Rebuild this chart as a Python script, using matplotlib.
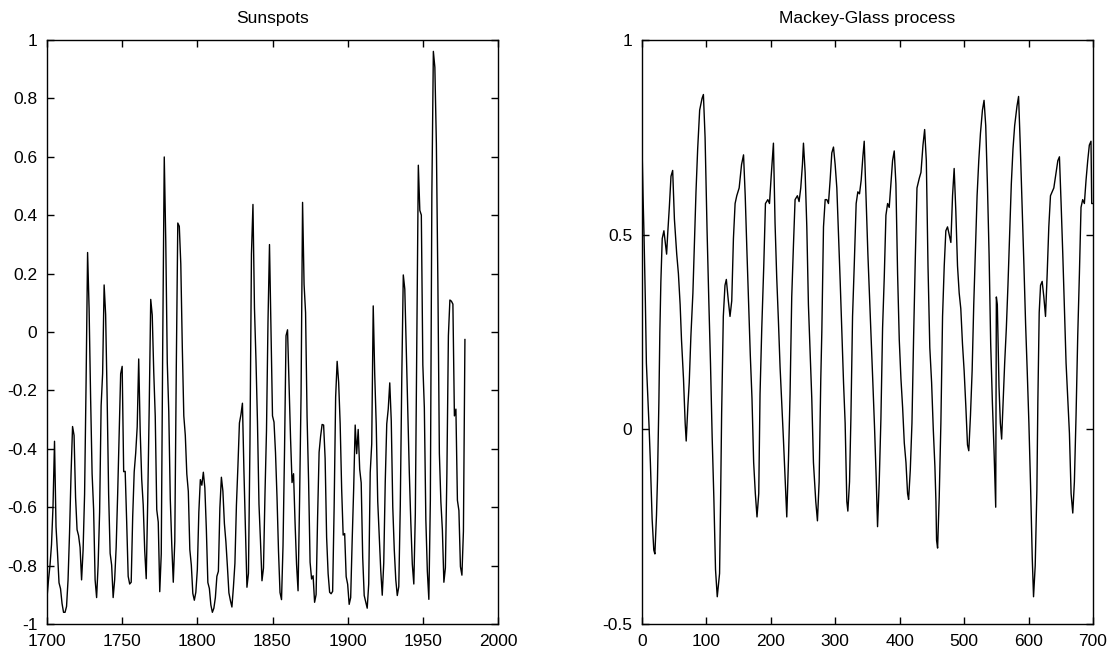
import matplotlib
matplotlib.use("Agg")
import matplotlib.pyplot as plt
import numpy as np

plt.rcParams['font.family'] = ['Liberation Sans', 'DejaVu Sans']
plt.rcParams['axes.unicode_minus'] = False

# ---- Sunspots: yearly sunspot numbers 1700-1978 (plotted after linear rescale) ----
sun_start_year = 1700
sun_raw = [5.0, 11.0, 16.0, 23.0, 36.0, 58.0, 29.0, 20.0, 10.0, 8.0,
           3.0, 0.0, 0.0, 2.0, 11.0, 27.0, 47.0, 63.0, 60.0, 39.0,
           28.0, 26.0, 22.0, 11.0, 21.0, 40.0, 78.0, 122.0, 103.0, 73.0,
           47.0, 35.0, 11.0, 5.0, 16.0, 34.0, 70.0, 81.0, 111.0, 101.0,
           73.0, 40.0, 20.0, 16.0, 5.0, 11.0, 22.0, 40.0, 60.0, 80.9,
           83.4, 47.7, 47.8, 30.7, 12.2, 9.6, 10.2, 32.4, 47.6, 54.0,
           62.9, 85.9, 61.2, 45.1, 36.4, 20.9, 11.4, 37.8, 69.8, 106.1,
           100.8, 81.6, 66.5, 34.8, 30.6, 7.0, 19.8, 92.5, 154.4, 125.9,
           84.8, 68.1, 38.5, 22.8, 10.2, 24.1, 82.9, 132.0, 130.9, 118.1,
           89.9, 66.6, 60.0, 46.9, 41.0, 21.3, 16.0, 6.4, 4.1, 6.8,
           14.5, 34.0, 45.0, 43.1, 47.5, 42.2, 28.1, 10.1, 8.1, 2.5,
           0.0, 1.4, 5.0, 12.2, 13.9, 35.4, 45.8, 41.1, 30.1, 23.9,
           15.6, 6.6, 4.0, 1.8, 8.5, 16.6, 36.3, 49.6, 64.2, 67.0,
           70.9, 47.8, 27.5, 8.5, 13.2, 56.9, 121.5, 138.3, 103.2, 85.7,
           64.6, 36.7, 24.2, 10.7, 15.0, 40.1, 61.5, 98.5, 124.7, 96.3,
           66.6, 64.5, 54.1, 39.0, 20.6, 6.7, 4.3, 22.7, 54.8, 93.8,
           95.8, 77.2, 59.1, 44.0, 47.0, 30.5, 16.3, 7.3, 37.6, 74.0,
           139.0, 111.2, 101.6, 66.2, 44.7, 17.0, 11.3, 12.4, 3.4, 6.0,
           32.3, 54.3, 59.7, 63.7, 63.5, 52.2, 25.4, 13.1, 6.8, 6.3,
           7.1, 35.6, 73.0, 85.1, 78.0, 64.0, 41.8, 26.2, 26.7, 12.1,
           9.5, 2.7, 5.0, 24.4, 42.0, 63.5, 53.8, 62.0, 48.5, 43.9,
           18.6, 5.7, 3.6, 1.4, 9.6, 47.4, 57.1, 103.9, 80.6, 63.6,
           37.6, 26.1, 14.2, 5.8, 16.7, 44.3, 63.9, 69.0, 77.8, 64.9,
           35.7, 21.2, 11.1, 5.7, 8.7, 36.1, 79.7, 114.4, 109.6, 88.8,
           67.8, 47.5, 30.6, 16.3, 9.6, 33.2, 92.6, 151.6, 136.3, 134.7,
           83.9, 69.4, 31.5, 13.9, 4.4, 38.0, 141.7, 190.2, 184.8, 159.0,
           112.3, 53.9, 37.5, 27.9, 10.2, 15.1, 47.0, 93.8, 105.9, 105.5,
           104.5, 66.6, 68.9, 38.0, 34.5, 15.5, 12.6, 27.5, 92.5]
sun_scale = 0.0101   # normalisation used by the chart
sun_offset = -0.96

sun_xticks = [1700, 1750, 1800, 1850, 1900, 1950, 2000]
sun_yticks = [-1, -0.8, -0.6, -0.4, -0.2, 0, 0.2, 0.4, 0.6, 0.8, 1]
sun_ylabels = ['-1', '-0.8', '-0.6', '-0.4', '-0.2', '0', '0.2', '0.4', '0.6', '0.8', '1']

# ---- Mackey-Glass process: values ----
mg_t = [0, 1.6, 3.1, 5.2, 6.8, 11, 13, 15.7, 18.3, 20, 22.5, 24, 26.2, 27.7, 29.3,
        31.4, 34, 38.2, 39.8, 42.4, 45, 47.6, 50.3, 53.9, 56.5, 59.2, 61.3, 64.4,
        67, 68.6, 71.2, 73.3, 75.9, 79, 81.2, 83.8, 86.4, 89.5, 93.2, 95.3, 97.9,
        101, 103.7, 106.3, 108.9, 111.5, 114.1, 116.8, 120.4, 122, 123.6, 126.2,
        128.8, 130.9, 134, 136.6, 139.3, 141.9, 144.5, 147.1, 150.8, 154.5, 157.6,
        160.2, 162.8, 165.4, 168.1, 170.7, 173.3, 175.9, 178.5, 181.2, 183.2,
        185.9, 189, 191.6, 195.3, 197.9, 200.5, 204.0, 206.5, 209.1, 211.7, 214.3,
        216.9, 219.5, 222.1, 224.7, 227.3, 229.8, 232.4, 235, 237.6, 241.2, 243.8,
        246.4, 249, 250.6, 253.2, 255.8, 258.3, 260.9, 263.5, 266.1, 269.7, 272.3,
        274.9, 277.5, 279.1, 281.7, 284.3, 286.9, 289.4, 292, 294.6, 297.2, 299.8,
        302.4, 305, 307.6, 310.2, 312.8, 315.3, 317.9, 319.5, 322.1, 324.2, 326.8,
        329.4, 332.4, 335, 337.6, 340.2, 342.8, 344.9, 348, 350.6, 353.2, 355.8,
        358.3, 360.9, 363.5, 365.6, 368.2, 370.8, 373.4, 376, 378.6, 381.2, 383.7,
        386.3, 388.9, 391.5, 394.1, 396.7, 399.3, 401.9, 404.5, 407.1, 409.7,
        412.2, 413.8, 416.4, 419, 421.6, 424.2, 426.8, 430.4, 433, 436.1, 438.7,
        441.3, 443.9, 446.7, 449.5, 452.1, 454.6, 456.2, 457.2, 458.8, 461.3,
        463.9, 466.5, 469.1, 471.6, 474.2, 476.8, 479.4, 482, 484.5, 487.1, 489.7,
        492.3, 494.8, 497.4, 500, 502.6, 505.2, 507.2, 509.8, 512.4, 514.9, 517.5,
        520.1, 522.7, 525.3, 528.4, 530.9, 533.5, 536.1, 538.7, 541.2, 543.8,
        546.4, 549, 550, 551.5, 552.6, 554.1, 556.2, 558.2, 560.3, 562.9, 565.5,
        568, 570.6, 573.2, 575.8, 578.4, 582, 584.5, 587.1, 589.7, 592.8, 595.4,
        597.9, 600.5, 603.1, 605.7, 607.7, 610.3, 612.9, 614.4, 616.5, 618.6,
        621.1, 623.7, 626.3, 628.9, 631.4, 634, 636.6, 639.2, 641.8, 645.4, 647.9,
        650.5, 653.1, 655.7, 658.2, 660.8, 663.4, 666, 668.6, 671.1, 673.7, 676.3,
        678.9, 681.4, 684, 686.6, 689.2, 691.8, 694.3, 696.9, 698, 700]
mg_v = [0.73, 0.60, 0.50, 0.33, 0.17, 0.006, -0.085, -0.23, -0.31, -0.32, -0.22,
        -0.13, 0.07, 0.25, 0.38, 0.49, 0.51, 0.45, 0.50, 0.57, 0.65, 0.665, 0.54,
        0.45, 0.40, 0.32, 0.23, 0.13, 0.016, -0.03, 0.06, 0.12, 0.24, 0.35, 0.47,
        0.61, 0.72, 0.82, 0.85, 0.86, 0.75, 0.51, 0.33, 0.17, -0.02, -0.175, -0.36,
        -0.43, -0.37, -0.18, 0.04, 0.29, 0.37, 0.385, 0.33, 0.29, 0.33, 0.49, 0.58,
        0.60, 0.62, 0.68, 0.705, 0.60, 0.46, 0.33, 0.19, 0.08, -0.085, -0.165,
        -0.225, -0.165, 0.09, 0.26, 0.42, 0.58, 0.59, 0.58, 0.65, 0.735, 0.53,
        0.39, 0.28, 0.16, 0.07, -0.025, -0.125, -0.225, -0.08, 0.09, 0.34, 0.47,
        0.59, 0.60, 0.585, 0.62, 0.68, 0.735, 0.66, 0.52, 0.32, 0.20, 0.08, -0.085,
        -0.185, -0.235, -0.135, 0.13, 0.25, 0.52, 0.59, 0.59, 0.58, 0.64, 0.71,
        0.725, 0.68, 0.62, 0.50, 0.38, 0.25, 0.12, 0.016, -0.185, -0.21, -0.135,
        0.026, 0.29, 0.42, 0.58, 0.61, 0.605, 0.64, 0.70, 0.74, 0.58, 0.45, 0.34,
        0.23, 0.12, 0.006, -0.125, -0.25, -0.135, 0.026, 0.26, 0.39, 0.55, 0.58,
        0.57, 0.63, 0.69, 0.715, 0.63, 0.40, 0.23, 0.13, 0.056, -0.035, -0.085,
        -0.165, -0.18, -0.105, 0.016, 0.24, 0.44, 0.62, 0.645, 0.66, 0.73, 0.77,
        0.69, 0.42, 0.21, 0.12, 0.0, -0.095, -0.185, -0.285, -0.305, -0.175, 0.016,
        0.29, 0.42, 0.51, 0.52, 0.50, 0.48, 0.60, 0.67, 0.56, 0.42, 0.35, 0.31,
        0.22, 0.15, 0.06, -0.04, -0.055, 0.035, 0.15, 0.32, 0.46, 0.60, 0.69, 0.76,
        0.82, 0.845, 0.78, 0.63, 0.45, 0.22, 0.07, -0.055, -0.2, 0.34, 0.32, 0.23,
        0.11, 0.016, -0.025, 0.06, 0.17, 0.26, 0.37, 0.50, 0.63, 0.72, 0.78, 0.83,
        0.855, 0.73, 0.59, 0.42, 0.27, 0.15, 0.016, -0.145, -0.33, -0.43, -0.35,
        -0.155, 0.07, 0.30, 0.37, 0.38, 0.34, 0.29, 0.40, 0.52, 0.60, 0.61, 0.62,
        0.65, 0.69, 0.70, 0.58, 0.45, 0.31, 0.17, 0.08, -0.01, -0.165, -0.215,
        -0.135, 0.036, 0.24, 0.40, 0.57, 0.59, 0.58, 0.64, 0.69, 0.73, 0.74, 0.58,
        0.58]

mg_xticks = [0, 100, 200, 300, 400, 500, 600, 700]
mg_yticks = [-0.5, 0, 0.5, 1]
mg_ylabels = ['-0.5', '0', '0.5', '1']

W, H = 1109, 654
fig = plt.figure(figsize=(W / 100, H / 100), dpi=100)
fig.patch.set_facecolor('white')

def px_axes(x0, x1, ytop, ybot):
    return fig.add_axes([x0 / W, (H - ybot) / H, (x1 - x0) / W, (ybot - ytop) / H])

ax1 = px_axes(47, 498, 40, 624)
ax2 = px_axes(642, 1093, 40, 624)

years = np.arange(sun_start_year, sun_start_year + len(sun_raw))
sun_vals = np.array(sun_raw) * sun_scale + sun_offset
ax1.plot(years, sun_vals, color='black', linewidth=1.0)
ax2.plot(mg_t, mg_v, color='black', linewidth=1.0)

fs = 12.5
for ax in (ax1, ax2):
    for sp in ax.spines.values():
        sp.set_linewidth(1.0)
        sp.set_color('black')
    ax.tick_params(direction='in', top=True, right=True, length=5, width=1.0,
                   labelsize=fs, pad=7, colors='black')

ax1.set_xlim(1700, 2000)
ax1.set_ylim(-1, 1)
ax1.set_xticks(sun_xticks)
ax1.set_xticklabels([str(v) for v in sun_xticks])
ax1.set_yticks(sun_yticks)
ax1.set_yticklabels(sun_ylabels)
ax1.set_title('Sunspots', fontsize=fs, pad=12)

ax2.set_xlim(0, 700)
ax2.set_ylim(-0.5, 1)
ax2.set_xticks(mg_xticks)
ax2.set_xticklabels([str(v) for v in mg_xticks])
ax2.set_yticks(mg_yticks)
ax2.set_yticklabels(mg_ylabels)
ax2.set_title('Mackey-Glass process', fontsize=fs, pad=12)

fig.savefig('out.png', dpi=100, facecolor='white')
